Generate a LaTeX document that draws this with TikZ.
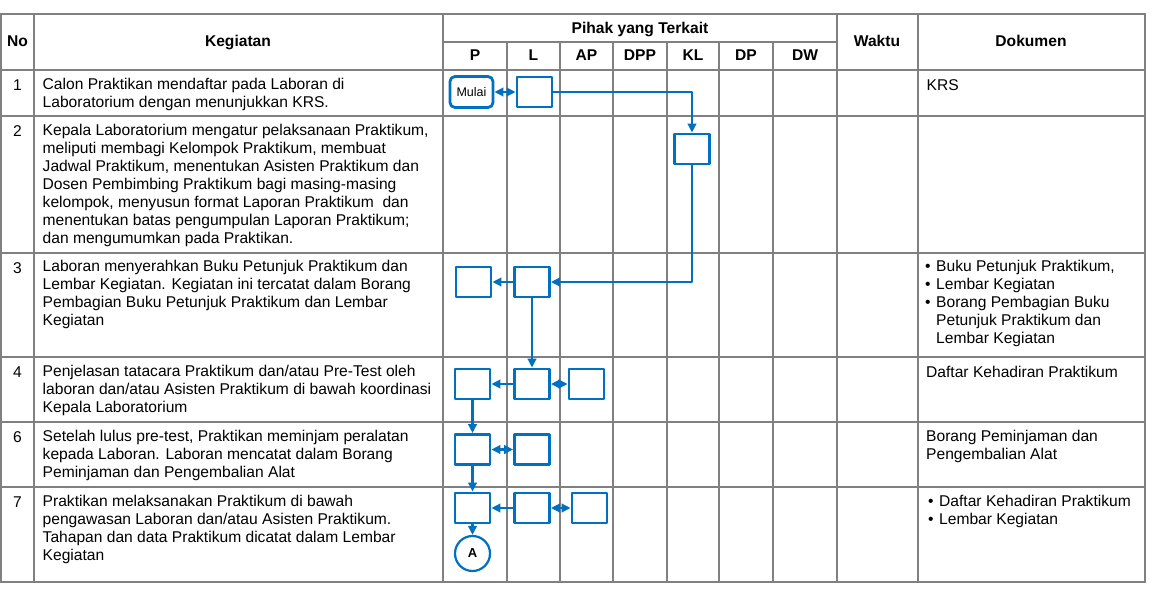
\documentclass[tikz,border=0pt]{standalone}
\usepackage{fontspec}
\setmainfont{Liberation Sans}
\usetikzlibrary{arrows.meta,positioning,shapes.geometric}
\definecolor{flowblue}{RGB}{0,112,192}
\definecolor{gridgray}{RGB}{128,128,128}
\newcommand{\bodyfont}{\fontsize{15.6}{18}\selectfont}
\newcommand{\mulaifont}{\fontsize{12.5}{14}\selectfont}
\newcommand{\bul}{\makebox[11pt][l]{\textbullet}}

\begin{document}
\begin{tikzpicture}[x=1pt,y=-1pt,line cap=round,line join=round,
	gridline/.style={gridgray,line width=1.4pt,line cap=rect},
	cell/.style={anchor=north west,inner sep=0pt,align=left,font=\bodyfont,execute at begin node=\strut},
	numcell/.style={anchor=north,inner sep=0pt,font=\bodyfont,execute at begin node=\strut},
	head/.style={anchor=base,inner sep=0pt,font=\bodyfont\bfseries},
	box/.style={draw=flowblue,line width=2.8pt,minimum width=35pt,minimum height=30pt,inner sep=0pt},
	flow/.style={flowblue,line width=2.6pt,-{Triangle[length=9pt,width=8.5pt]}},
	flowboth/.style={flowblue,line width=2.6pt,{Triangle[length=9pt,width=8.5pt]}-{Triangle[length=9pt,width=8.5pt]}}]
		\useasboundingbox (0,0) rectangle (1157,594);
		% table grid
		\foreach \y in {14,70,116,253,357,422,487,582}
			\draw[gridline] (1,\y) -- (1145,\y);
		\draw[gridline] (443,42) -- (837,42);
		\foreach \x in {1,34,443,837,918,1145}
			\draw[gridline] (\x,14) -- (\x,582);
		\foreach \x in {507,560,613,667,719,773}
			\draw[gridline] (\x,42) -- (\x,582);
		% header
		\node[head] (hNo) at (17.5,47) {No};
		\node[head] (hKeg) at (238,47) {Kegiatan};
		\node[head] (hPihak) at (640,34) {Pihak yang Terkait};
		\node[head] (hWaktu) at (877,47) {Waktu};
		\node[head] (hDok) at (1031,47) {Dokumen};
		\foreach \lbl/\x in {P/475,L/533.5,AP/586.5,DPP/640,KL/693,DP/746,DW/805}
			\node[head] (h\lbl) at (\x,61) {\lbl};
		% rows
		\foreach \n/\y in {1/70,2/116,3/253,4/357,6/422,7/487}
			\node[numcell] (no\n) at (17.5,\y+7.5) {\n};
		\node[cell] (keg1) at (42.5,77.5) {Calon Praktikan mendaftar pada Laboran di\\Laboratorium dengan menunjukkan KRS.};
		\node[cell] (keg2) at (42.5,123.5) {Kepala Laboratorium mengatur pelaksanaan Praktikum,\\meliputi membagi Kelompok Praktikum, membuat\\Jadwal Praktikum, menentukan Asisten Praktikum dan\\Dosen Pembimbing Praktikum bagi masing-masing\\kelompok, menyusun format Laporan Praktikum\ \ dan\\menentukan batas pengumpulan Laporan Praktikum;\\dan mengumumkan pada Praktikan.};
		\node[cell] (keg3) at (42.5,260) {Laboran menyerahkan Buku Petunjuk Praktikum dan\\Lembar Kegiatan. Kegiatan ini tercatat dalam Borang\\Pembagian Buku Petunjuk Praktikum dan Lembar\\Kegiatan};
		\node[cell] (keg4) at (42.5,364.5) {Penjelasan tatacara Praktikum dan/atau Pre-Test oleh\\laboran dan/atau Asisten Praktikum di bawah koordinasi\\Kepala Laboratorium};
		\node[cell] (keg6) at (42.5,429.5) {Setelah lulus pre-test, Praktikan meminjam peralatan\\kepada Laboran. Laboran mencatat dalam Borang\\Peminjaman dan Pengembalian Alat};
		\node[cell] (keg7) at (42.5,494.5) {Praktikan melaksanakan Praktikum di bawah\\pengawasan Laboran dan/atau Asisten Praktikum.\\Tahapan dan data Praktikum dicatat dalam Lembar\\Kegiatan};
		\node[cell] (dok1) at (926.5,77.5) {KRS};
		\node[cell] (dok3) at (925,260) {\bul Buku Petunjuk Praktikum,\\\bul Lembar Kegiatan\\\bul Borang Pembagian Buku\\\hspace*{11pt}Petunjuk Praktikum dan\\\hspace*{11pt}Lembar Kegiatan};
		\node[cell] (dok4) at (926,364.5) {Daftar Kehadiran Praktikum};
		\node[cell] (dok6) at (926,429.5) {Borang Peminjaman dan\\Pengembalian Alat};
		\node[cell] (dok7) at (928,494.5) {\bul Daftar Kehadiran Praktikum\\\bul Lembar Kegiatan};
		% flow
		\node[box,rounded corners=5pt,minimum width=43pt,minimum height=31pt,font=\mulaifont] (mulai) at (471.5,92) {Mulai};
		\node[box] (daftarL) at (534.5,92) {};
		\node[box] (aturKL) at (692,149) {};
		\node[box] (serahP) at (473.5,282) {};
		\node[box] (serahL) at (532,282) {};
		\node[box] (jelasP) at (472.5,384) {};
		\node[box] (jelasL) at (532,384) {};
		\node[box] (jelasAP) at (586.5,384) {};
		\node[box] (pinjamP) at (472.5,449.5) {};
		\node[box] (pinjamL) at (532,449.5) {};
		\node[box] (laksanaP) at (472.5,508) {};
		\node[box] (laksanaL) at (532,508) {};
		\node[box] (laksanaAP) at (589.5,508) {};
		\node[box,circle,line width=2.2pt,minimum size=35pt,font=\fontsize{13}{15}\selectfont\bfseries] (konA) at (472.5,553.5) {A};
		\draw[flowboth] (mulai) -- (daftarL);
		\draw[flow] (daftarL.east) -| (aturKL.north);
		\draw[flow] (aturKL.south) |- (serahL.east);
		\draw[flow] (serahL) -- (serahP);
		\draw[flow] (serahL) -- (jelasL);
		\draw[flow] (jelasL) -- (jelasP);
		\draw[flowboth] (jelasL) -- (jelasAP);
		\draw[flow] (jelasP) -- (pinjamP);
		\draw[flowboth] (pinjamP) -- (pinjamL);
		\draw[flow] (pinjamP) -- (laksanaP);
		\draw[flow] (laksanaL) -- (laksanaP);
		\draw[flowboth] (laksanaL) -- (laksanaAP);
		\draw[flow] (laksanaP) -- (konA);
\end{tikzpicture}
\end{document}
